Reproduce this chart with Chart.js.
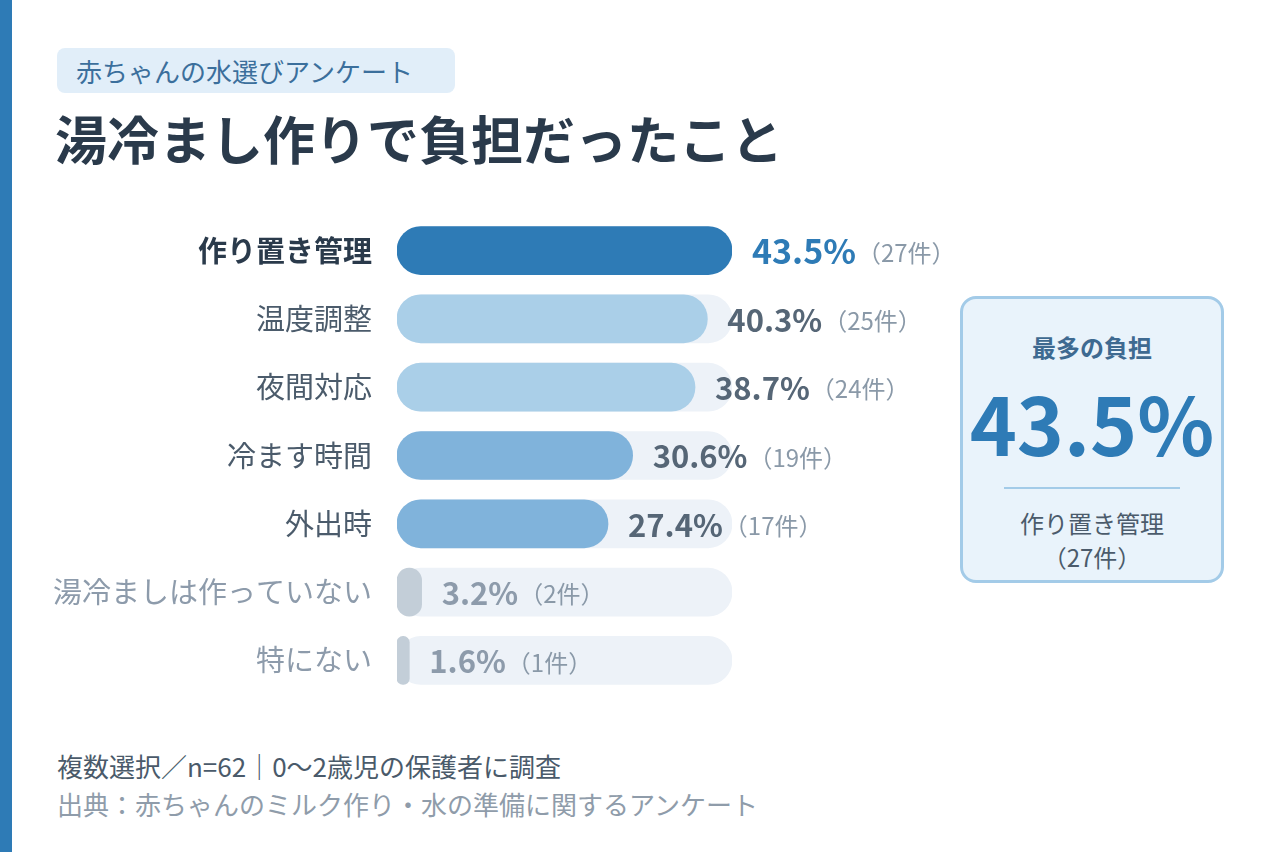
<!DOCTYPE html>
<html lang="ja">
<head>
<meta charset="utf-8">
<title>湯冷まし作りで負担だったこと</title>
<script src="https://cdn.jsdelivr.net/npm/chart.js@4.4.1/dist/chart.umd.min.js"></script>
<style>
  html, body { margin: 0; padding: 0; }
  body {
    width: 1280px; height: 852px; position: relative; overflow: hidden;
    background: #ffffff;
    font-family: "Noto Sans CJK JP", "Noto Sans", sans-serif;
  }
  .stripe { position: absolute; left: 0; top: 0; width: 12px; height: 852px; background: #2e7bb6; }
  .tag {
    position: absolute; left: 57px; top: 48px; width: 398px; height: 45px;
    background: #e1eef9; border-radius: 8px;
    color: #3b6f9c; font-size: 26px; line-height: 45px; padding-left: 19px; box-sizing: border-box;
  }
  .title {
    position: absolute; left: 55px; top: 110px; margin: 0;
    font-size: 52px; line-height: 56px; font-weight: 700; color: #2a3a4b;
  }
  /* canvas is taller than the plot: the y axis adds label padding above and below */
  #chartWrap { position: absolute; left: 0; top: 174px; width: 960px; height: 563px; }
  .callout {
    position: absolute; left: 960px; top: 296px; width: 264px; height: 287px;
    box-sizing: border-box; border: 3px solid #a3cbe8; border-radius: 16px;
    background: #e9f3fb; text-align: center;
  }
  .callout div { position: absolute; left: 0; right: 0; }
  .c-head { top: 30px; font-size: 24px; line-height: 36px; font-weight: 700; color: #3e6a91; }
  .c-big { top: 74px; font-size: 80px; line-height: 96px; font-weight: 700; color: #2e7bb6; }
  .c-line { top: 188px; left: 41px !important; right: auto !important; width: 176px; height: 2px; background: #a3cbe8; }
  .c-name { top: 206px; font-size: 24px; line-height: 36px; color: #4b5b6b; }
  .c-count { top: 240px; font-size: 24px; line-height: 36px; color: #4b5b6b; }
  .note { position: absolute; left: 57px; font-size: 26px; line-height: 36px; }
  .n1 { top: 748px; color: #4a5a6a; }
  .n2 { top: 786px; color: #8f9caa; }
</style>
</head>
<body>
<div class="stripe"></div>
<div class="tag">赤ちゃんの水選びアンケート</div>
<h1 class="title">湯冷まし作りで負担だったこと</h1>

<div id="chartWrap"><canvas id="burdenChart" width="960" height="563"></canvas></div>

<div class="callout">
  <div class="c-head">最多の負担</div>
  <div class="c-big" id="bigValue"></div>
  <div class="c-line"></div>
  <div class="c-name" id="bigName"></div>
  <div class="c-count" id="bigCount"></div>
</div>

<div class="note n1">複数選択／n=62｜0〜2歳児の保護者に調査</div>
<div class="note n2">出典：赤ちゃんのミルク作り・水の準備に関するアンケート</div>

<script>
// data
const categories = ['作り置き管理', '温度調整', '夜間対応', '冷ます時間', '外出時', '湯冷ましは作っていない', '特にない'];
const percents = [43.5, 40.3, 38.7, 30.6, 27.4, 3.2, 1.6];
const counts = [27, 25, 24, 19, 17, 2, 1];

// colours per row
const barColors = ['#2e7bb6', '#aacfe8', '#aacfe8', '#80b3db', '#80b3db', '#c3ced8', '#c3ced8'];
const labelColors = ['#2a3a4b', '#4b5b6b', '#4b5b6b', '#4b5b6b', '#4b5b6b', '#8d9bab', '#8d9bab'];
const valueColors = ['#2e7bb6', '#566676', '#566676', '#566676', '#566676', '#8d9bab', '#8d9bab'];

const maxPct = Math.max(...percents);
const FONT = '"Noto Sans CJK JP", "Noto Sans", sans-serif';

document.getElementById('bigValue').textContent = maxPct + '%';
document.getElementById('bigName').textContent = categories[percents.indexOf(maxPct)];
document.getElementById('bigCount').textContent = '（' + counts[percents.indexOf(maxPct)] + '件）';

// draws "43.5%（27件）" right after each bar
const valueLabels = {
    id: 'valueLabels',
    afterDatasetsDraw(chart) {
        const ctx = chart.ctx;
        const meta = chart.getDatasetMeta(1);
        meta.data.forEach(function(bar, i) {
            const x = bar.x + 20;
            const y = bar.y;
            const first = i === 0;
            ctx.save();
            ctx.textBaseline = 'middle';
            ctx.textAlign = 'left';
            ctx.font = '700 ' + (first ? 34 : 31) + 'px ' + FONT;
            ctx.fillStyle = valueColors[i];
            const pctText = percents[i].toFixed(1) + '%';
            ctx.fillText(pctText, x, y + 1);
            const w = ctx.measureText(pctText).width;
            ctx.font = '400 24px ' + FONT;
            ctx.fillStyle = '#8a99a8';
            ctx.fillText('（' + counts[i] + '件）', x + w + 1, y + 2);
            ctx.restore();
        });
    }
};

const ctx = document.getElementById('burdenChart').getContext('2d');
new Chart(ctx, {
    type: 'bar',
    data: {
        labels: categories,
        datasets: [
            {
                label: 'track',
                data: categories.map(() => maxPct),
                backgroundColor: '#edf2f8',
                borderRadius: 24,
                borderSkipped: false,
                barThickness: 48,
                grouped: false,
                order: 2
            },
            {
                label: '割合',
                data: percents,
                backgroundColor: barColors,
                borderRadius: 24,
                borderSkipped: false,
                barThickness: 48,
                grouped: false,
                order: 1
            }
        ]
    },
    options: {
        indexAxis: 'y',
        responsive: false,
        animation: false,
        layout: { padding: { left: 0, right: 228, top: 0, bottom: 0 } },
        plugins: {
            legend: { display: false },
            tooltip: { enabled: false }
        },
        scales: {
            x: {
                display: false,
                min: 0,
                max: maxPct
            },
            y: {
                grid: { display: false, drawTicks: false },
                border: { display: false },
                afterFit: function(scale) { scale.width = 397; },
                ticks: {
                    padding: 25,
                    color: function(c) { return labelColors[c.index]; },
                    font: function(c) {
                        return { family: FONT, size: 29, weight: c.index === 0 ? '700' : '400' };
                    }
                }
            }
        }
    },
    plugins: [valueLabels]
});
</script>
</body>
</html>
